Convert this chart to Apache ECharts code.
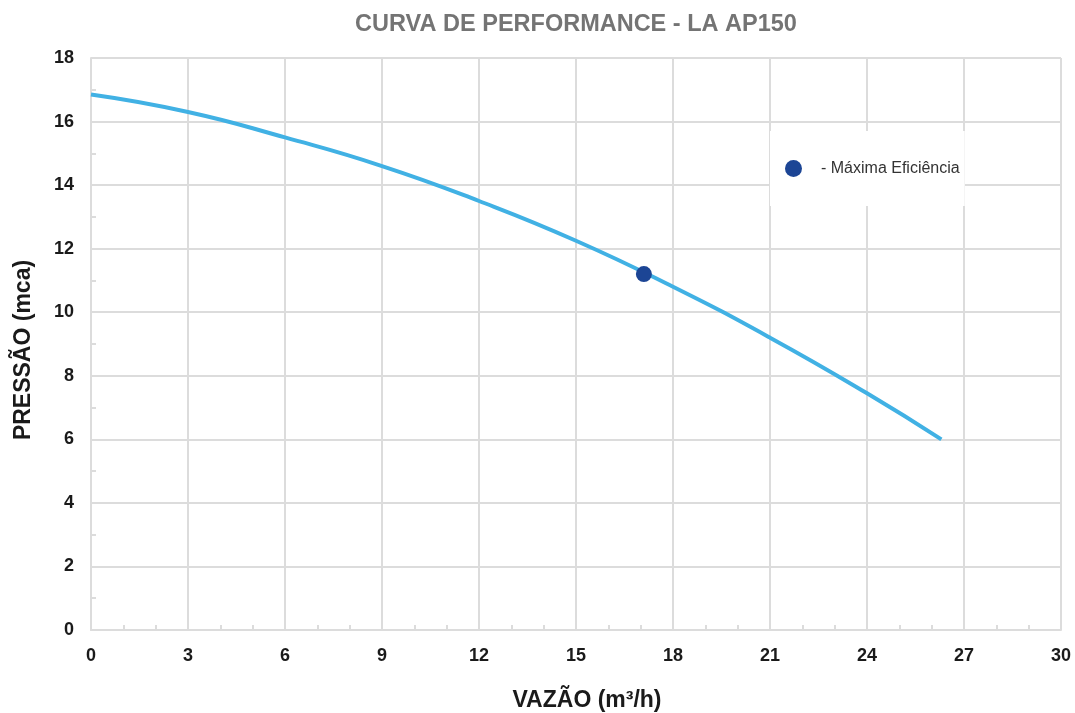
<!DOCTYPE html>
<html>
<head>
<meta charset="utf-8">
<script src="https://cdn.jsdelivr.net/npm/echarts@6/dist/echarts.min.js"></script>
<style>
  html, body { margin: 0; padding: 0; background: #fff; }
  #chart { width: 1075px; height: 713px; }
</style>
</head>
<body>
<div id="chart"></div>
<script>
// curva da bomba
var vazao = [0, 3, 6, 9, 12, 15, 18, 21, 24, 26.3];
var pressao = [16.85, 16.3, 15.5, 14.6, 13.5, 12.25, 10.8, 9.2, 7.45, 6.0];
// ponto de maxima eficiencia
var efVazao = [17.1];
var efPressao = [11.2];

var curva = vazao.map(function (v, i) { return [v, pressao[i]]; });
var eficiencia = efVazao.map(function (v, i) { return [v, efPressao[i]]; });

var gridColor = '#dcdcdc';
var chart = echarts.init(document.getElementById('chart'));
var option = {
    animation: false,
    title: {
        text: 'CURVA DE PERFORMANCE - LA AP150',
        left: 571,
        textAlign: 'center',
        top: 8,
        textStyle: { color: '#747474', fontSize: 23.5, fontWeight: 'bold', fontFamily: 'Liberation Sans' }
    },
    legend: {
        data: ['Máxima Eficiência'],
        left: 770,
        top: 131,
        padding: [29, 5, 29, 15],
        backgroundColor: '#fff',
        itemWidth: 17,
        itemHeight: 17,
        formatter: function (name) { return '{a|- ' + name + '}'; },
        textStyle: {
            rich: { a: { padding: [0, 0, 0, 14], fontSize: 16, color: '#333', fontFamily: 'Liberation Sans' } }
        }
    },
    grid: { left: 91, right: 14, top: 58, bottom: 83, containLabel: false, outerBoundsMode: 'none' },
    xAxis: {
        type: 'value',
        min: 0, max: 30, interval: 3,
        name: 'VAZÃO (m³/h)',
        nameLocation: 'middle',
        nameGap: 59,
        nameTextStyle: { fontSize: 23, fontWeight: 'bold', color: '#1a1a1a', fontFamily: 'Liberation Sans', padding: [0, 0, 0, 22] },
        axisLine: { lineStyle: { color: gridColor, width: 2 } },
        axisTick: { show: true, inside: true, length: 4, lineStyle: { color: gridColor, width: 2 } },
        minorTick: { show: true, splitNumber: 3, length: 5, lineStyle: { color: gridColor, width: 2 } },
        axisLabel: { fontSize: 18, fontWeight: 'bold', color: '#1a1a1a', margin: 17, fontFamily: 'Liberation Sans' },
        splitLine: { lineStyle: { color: gridColor, width: 2 } }
    },
    yAxis: {
        type: 'value',
        min: 0, max: 18, interval: 2,
        name: 'PRESSÃO (mca)',
        nameLocation: 'middle',
        nameGap: 56,
        nameTextStyle: { fontSize: 23, fontWeight: 'bold', color: '#1a1a1a', fontFamily: 'Liberation Sans', padding: [0, 12, 0, 0] },
        axisLine: { show: true, lineStyle: { color: gridColor, width: 2 } },
        axisTick: { show: true, inside: true, length: 4, lineStyle: { color: gridColor, width: 2 } },
        minorTick: { show: true, splitNumber: 2, length: 5, lineStyle: { color: gridColor, width: 2 } },
        axisLabel: { fontSize: 18, fontWeight: 'bold', color: '#1a1a1a', margin: 17, fontFamily: 'Liberation Sans' },
        splitLine: { lineStyle: { color: gridColor, width: 2 } }
    },
    series: [
        {
            name: 'Curva',
            type: 'line',
            data: curva,
            smooth: true,
            showSymbol: false,
            lineStyle: { color: '#41b1e4', width: 4 }
        },
        {
            name: 'Máxima Eficiência',
            type: 'scatter',
            data: eficiencia,
            symbol: 'circle',
            symbolSize: 16,
            itemStyle: { color: '#1c4595', opacity: 1 },
            z: 5
        }
    ]
};
chart.setOption(option);
</script>
</body>
</html>
